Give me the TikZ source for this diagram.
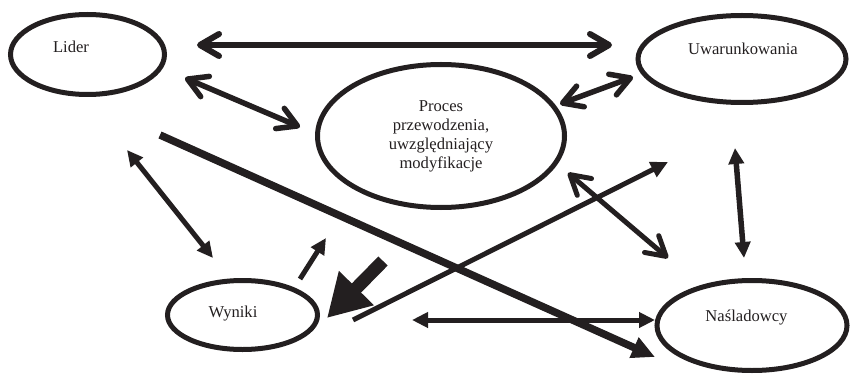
\documentclass[tikz,border=0pt]{standalone}
\usepackage{fontspec}
\setmainfont{Liberation Serif}
\usetikzlibrary{shapes.geometric,arrows.meta}
\definecolor{ink}{RGB}{35,31,32}
\tikzset{
  x=1pt,y=-1pt,
  oval/.style={draw=ink,ellipse,line width=5pt,inner sep=0pt},
  txt/.style={inner sep=0pt,text=ink,font=\fontsize{16.6}{19}\selectfont},
  barb/.style={draw=ink,line width=#1,{Straight Barb[length=19pt,width=22pt,round]}-{Straight Barb[length=19pt,width=22pt,round]}},
  tri2/.style={draw=ink,line width=#1,{Triangle[length=16pt,width=15pt]}-{Triangle[length=16pt,width=15pt]}},
  tri1/.style={draw=ink,line width=#1,-{Triangle[length=16pt,width=15pt]}},
}
\begin{document}
\begin{tikzpicture}
\useasboundingbox (0,0) rectangle (850,374);
% ellipses
\node[oval,minimum width=154pt,minimum height=80pt] (lider) at (87.5,54.5) {};
\node[oval,minimum width=208pt,minimum height=87pt] (uwar) at (742,59) {};
\node[oval,minimum width=247pt,minimum height=143pt] (proc) at (441,136) {};
\node[oval,minimum width=150pt,minimum height=69pt] (wyn) at (242.5,315) {};
\node[oval,minimum width=190pt,minimum height=90pt] (nas) at (752,325.5) {};
% texts
\node[txt,anchor=base] (lidert) at (71,53) {Lider};
\node[txt,anchor=base] (uwart) at (743,55) {Uwarunkowania};
\node[txt,align=center] (proct) at (441,136.5) {Proces\\przewodzenia,\\uwzględniający\\modyfikacje};
\node[txt,anchor=base] (wynt) at (233,317) {Wyniki};
\node[txt,anchor=base] (nast) at (746.5,321) {Naśladowcy};
% connector end points
\coordinate (lu1) at (197,45);
\coordinate (lu2) at (612,45);
\coordinate (lp1) at (185,78);
\coordinate (lp2) at (300,127);
\coordinate (pu1) at (560,104);
\coordinate (pu2) at (633,77);
\coordinate (ln1) at (160,135);
\coordinate (ln2) at (655,357);
\coordinate (lw1) at (127,150);
\coordinate (lw2) at (213,258);
\coordinate (wp1) at (300,279);
\coordinate (wp2) at (326,238);
\coordinate (bw1) at (383,261);
\coordinate (bw2) at (327,318);
\coordinate (wu1) at (353,320);
\coordinate (wu2) at (668,162);
\coordinate (pn1) at (568,173);
\coordinate (pn2) at (668,258);
\coordinate (un1) at (735,148);
\coordinate (un2) at (744,258);
\coordinate (wn1) at (412,320);
\coordinate (wn2) at (655,320);
% connectors
\draw[barb=6pt] (lu1) -- (lu2);
\draw[barb=5.5pt] (lp1) -- (lp2);
\draw[barb=5.5pt] (pu1) -- (pu2);
\draw[barb=5pt] (pn1) -- (pn2);
\draw[draw=ink,line width=7.5pt,-{Triangle[length=23pt,width=21pt]}] (ln1) -- (ln2);
\draw[tri2=5pt] (lw1) -- (lw2);
\draw[tri1=5pt] (wp1) -- (wp2);
\draw[draw=ink,line width=13pt,-{Triangle[length=42pt,width=46pt]}] (bw1) -- (bw2);
\draw[draw=ink,line width=5pt,-{Triangle[length=17pt,width=16pt]}] (wu1) -- (wu2);
\draw[tri2=5.5pt] (un1) -- (un2);
\draw[tri2=5pt] (wn1) -- (wn2);
\end{tikzpicture}
\end{document}
